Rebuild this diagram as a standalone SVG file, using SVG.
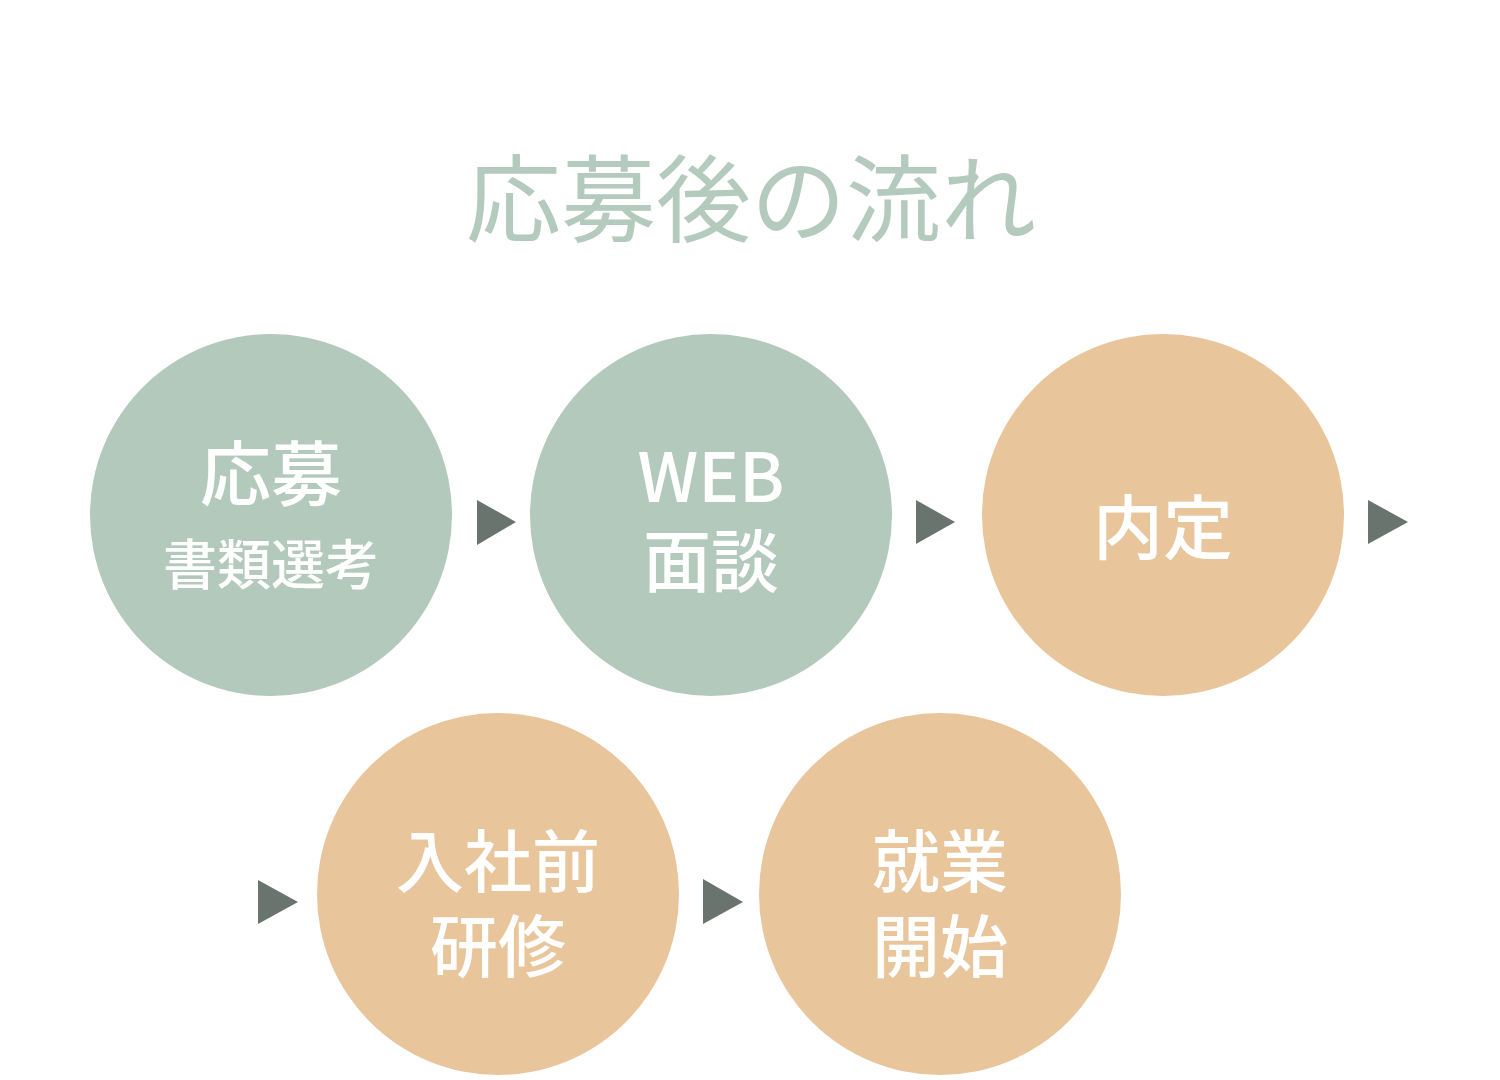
<svg xmlns="http://www.w3.org/2000/svg" width="1500" height="1080" viewBox="0 0 1500 1080">
<style>
.g{fill:#b2c9bb}
.o{fill:#e8c59b}
.t{fill:#ffffff;font-family:"Noto Sans CJK JP","Noto Sans",sans-serif;font-weight:500;text-anchor:middle}
.a{fill:#6a746f}
</style>
<rect width="1500" height="1080" fill="#ffffff"/>
<text x="751" y="235" font-family="Noto Sans CJK JP, sans-serif" font-size="95" font-weight="400" fill="#b3cabd" text-anchor="middle">応募後の流れ</text>
<g id="node1"><circle class="g" cx="271" cy="515" r="181"/><text class="t" x="271" y="500" font-size="71">応募</text><text class="t" x="271" y="585" font-size="54">書類選考</text></g>
<g id="node2"><circle class="g" cx="711" cy="515" r="181"/><text class="t" x="711" y="502" font-size="68">WEB</text><text class="t" x="711" y="587" font-size="68">面談</text></g>
<g id="node3"><circle class="o" cx="1163" cy="515" r="181"/><text class="t" x="1163" y="554" font-size="70">内定</text></g>
<g id="node4"><circle class="o" cx="498" cy="894" r="181"/><text class="t" x="498" y="887" font-size="68">入社前</text><text class="t" x="498" y="972" font-size="68">研修</text></g>
<g id="node5"><circle class="o" cx="940" cy="894" r="181"/><text class="t" x="940" y="887" font-size="68">就業</text><text class="t" x="940" y="972" font-size="68">開始</text></g>
<g id="connectors">
<polygon class="a" points="477,500 477,545 516,522"/>
<polygon class="a" points="916,500 916,544 955,522"/>
<polygon class="a" points="1368,500 1368,544 1408,522"/>
<polygon class="a" points="258,880 258,924 298,902"/>
<polygon class="a" points="703,879 703,924 743,902"/>
</g>
</svg>
